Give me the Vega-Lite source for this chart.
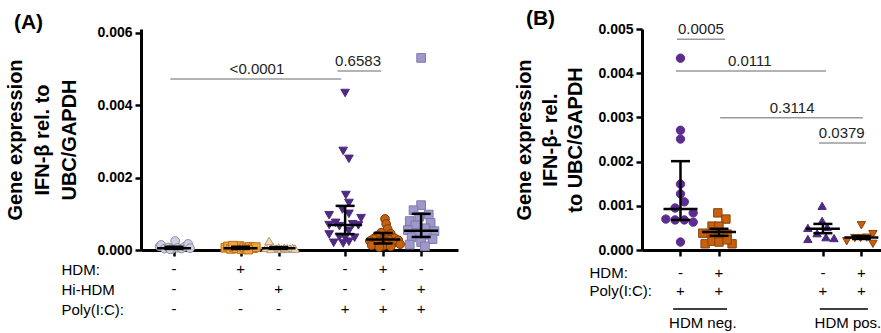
{
  "$schema": "https://vega.github.io/schema/vega-lite/v6.json",
  "padding": {"left": 5, "top": 8, "right": 0, "bottom": 0},
  "autosize": {"type": "pad"},
  "background": "white",
  "config": {
    "font": "Liberation Sans",
    "view": {"stroke": null},
    "axisY": {"labelFontSize": 14, "labelFontWeight": "bold", "labelColor": "black", "labelPadding": 3, "domainWidth": 3, "domainColor": "black", "tickColor": "black", "tickWidth": 2.5, "tickSize": 6, "grid": false, "titleFontSize": 20, "titleFontWeight": "bold", "titleColor": "black", "titleLineHeight": 27, "titlePadding": 10},
    "axisX": {"labels": false, "domainWidth": 3, "domainColor": "black", "tickColor": "black", "tickWidth": 2.5, "tickSize": 6, "grid": false},
    "title": {"fontSize": 21, "fontWeight": "bold", "color": "black", "anchor": "start"}
  },
  "datasets": {
    "ptsA": [
      {"g":"a1","x":0.62,"y":0.00010},{"g":"a1","x":0.66,"y":0.00014},{"g":"a1","x":0.75,"y":0.00004},{"g":"a1","x":0.85,"y":0.00007},{"g":"a1","x":0.95,"y":0.00003},{"g":"a1","x":1.03,"y":0.00025},{"g":"a1","x":1.1,"y":0.00006},{"g":"a1","x":1.2,"y":0.00004},{"g":"a1","x":1.28,"y":0.00009},{"g":"a1","x":1.37,"y":0.00017},{"g":"a1","x":1.42,"y":0.00005},{"g":"a1","x":0.9,"y":0.00002},
      {"g":"a2","x":2.35,"y":0.00006},{"g":"a2","x":2.42,"y":0.00010},{"g":"a2","x":2.5,"y":0.00003},{"g":"a2","x":2.58,"y":0.00008},{"g":"a2","x":2.65,"y":0.00005},{"g":"a2","x":2.72,"y":0.00011},{"g":"a2","x":2.78,"y":0.00002},{"g":"a2","x":2.85,"y":0.00007},{"g":"a2","x":2.92,"y":0.00004},{"g":"a2","x":3.0,"y":0.00009},{"g":"a2","x":3.08,"y":0.00005},{"g":"a2","x":3.15,"y":0.00008},{"g":"a2","x":2.55,"y":0.00012},{"g":"a2","x":2.95,"y":0.00001},
      {"g":"a3","x":3.5,"y":0.00025},{"g":"a3","x":3.42,"y":0.00006},{"g":"a3","x":3.6,"y":0.00008},{"g":"a3","x":3.68,"y":0.00004},{"g":"a3","x":3.75,"y":0.00007},{"g":"a3","x":3.82,"y":0.00003},{"g":"a3","x":3.9,"y":0.00006},{"g":"a3","x":3.98,"y":0.00005},{"g":"a3","x":4.05,"y":0.00004},{"g":"a3","x":4.12,"y":0.00006},{"g":"a3","x":3.55,"y":0.00003},{"g":"a3","x":4.18,"y":0.00004},
      {"g":"a4","x":5.5,"y":0.00434},{"g":"a4","x":5.45,"y":0.00274},{"g":"a4","x":5.6,"y":0.00252},{"g":"a4","x":5.52,"y":0.00152},{"g":"a4","x":5.6,"y":0.0013},{"g":"a4","x":5.43,"y":0.00112},{"g":"a4","x":5.6,"y":0.001},{"g":"a4","x":5.08,"y":0.00096},{"g":"a4","x":5.92,"y":0.00088},{"g":"a4","x":5.25,"y":0.00075},{"g":"a4","x":5.7,"y":0.00071},{"g":"a4","x":5.08,"y":0.00069},{"g":"a4","x":5.35,"y":0.00066},{"g":"a4","x":5.85,"y":0.00068},{"g":"a4","x":5.6,"y":0.00053},{"g":"a4","x":5.08,"y":0.00043},{"g":"a4","x":5.35,"y":0.00036},{"g":"a4","x":5.5,"y":0.00034},{"g":"a4","x":5.75,"y":0.00034},{"g":"a4","x":5.2,"y":0.0002},{"g":"a4","x":5.6,"y":0.00023},{"g":"a4","x":5.45,"y":0.00018},
      {"g":"a5","x":6.55,"y":0.00086},{"g":"a5","x":6.58,"y":0.00072},{"g":"a5","x":6.62,"y":0.00058},{"g":"a5","x":6.45,"y":0.00048},{"g":"a5","x":6.7,"y":0.00045},{"g":"a5","x":6.35,"y":0.0004},{"g":"a5","x":6.55,"y":0.00036},{"g":"a5","x":6.8,"y":0.00033},{"g":"a5","x":6.25,"y":0.00031},{"g":"a5","x":6.5,"y":0.0003},{"g":"a5","x":6.65,"y":0.00028},{"g":"a5","x":6.9,"y":0.00027},{"g":"a5","x":6.15,"y":0.00025},{"g":"a5","x":6.4,"y":0.00024},{"g":"a5","x":6.6,"y":0.00022},{"g":"a5","x":6.75,"y":0.00019},{"g":"a5","x":6.3,"y":0.00017},{"g":"a5","x":6.95,"y":0.00016},{"g":"a5","x":6.2,"y":0.00013},{"g":"a5","x":6.5,"y":0.00012},{"g":"a5","x":6.7,"y":0.0001},{"g":"a5","x":6.4,"y":0.00008},
      {"g":"a6","x":7.5,"y":0.00531},{"g":"a6","x":7.5,"y":0.00124},{"g":"a6","x":7.3,"y":0.0011},{"g":"a6","x":7.7,"y":0.00098},{"g":"a6","x":7.45,"y":0.00092},{"g":"a6","x":7.2,"y":0.0008},{"g":"a6","x":7.75,"y":0.00075},{"g":"a6","x":7.35,"y":0.00068},{"g":"a6","x":7.6,"y":0.0006},{"g":"a6","x":7.15,"y":0.00055},{"g":"a6","x":7.85,"y":0.00052},{"g":"a6","x":7.4,"y":0.00047},{"g":"a6","x":7.65,"y":0.00042},{"g":"a6","x":7.25,"y":0.00035},{"g":"a6","x":7.8,"y":0.0003},{"g":"a6","x":7.5,"y":0.00022},{"g":"a6","x":7.2,"y":0.00015},{"g":"a6","x":7.6,"y":0.0001}
    ],
    "barsA": [
      {"x":1,"med":0.00005,"lo":0.00003,"hi":0.00009},
      {"x":2.75,"med":0.00005,"lo":0.00003,"hi":0.00009},
      {"x":3.75,"med":0.00005,"lo":0.00003,"hi":0.00008},
      {"x":5.5,"med":0.00069,"lo":0.00044,"hi":0.00122},
      {"x":6.5,"med":0.00029,"lo":0.00018,"hi":0.00047},
      {"x":7.5,"med":0.00053,"lo":0.00036,"hi":0.001}
    ],
    "sigA": [
      {"x":0.9,"x2":5.4,"y":0.00473,"lx":3.18,"label":"<0.0001"},
      {"x":5.3,"x2":6.45,"y":0.00495,"lx":5.84,"label":"0.6583"}
    ],
    "tabA": [
      {"x":1,"row":"HDM:","s":"-"},{"x":1,"row":"Hi-HDM","s":"-"},{"x":1,"row":"Poly(I:C):","s":"-"},
      {"x":2.75,"row":"HDM:","s":"+"},{"x":2.75,"row":"Hi-HDM","s":"-"},{"x":2.75,"row":"Poly(I:C):","s":"-"},
      {"x":3.75,"row":"HDM:","s":"-"},{"x":3.75,"row":"Hi-HDM","s":"+"},{"x":3.75,"row":"Poly(I:C):","s":"-"},
      {"x":5.5,"row":"HDM:","s":"-"},{"x":5.5,"row":"Hi-HDM","s":"-"},{"x":5.5,"row":"Poly(I:C):","s":"+"},
      {"x":6.5,"row":"HDM:","s":"+"},{"x":6.5,"row":"Hi-HDM","s":"-"},{"x":6.5,"row":"Poly(I:C):","s":"+"},
      {"x":7.5,"row":"HDM:","s":"-"},{"x":7.5,"row":"Hi-HDM","s":"+"},{"x":7.5,"row":"Poly(I:C):","s":"+"}
    ],
    "ptsB": [
      {"g":"b1","x":1,"y":0.00434},{"g":"b1","x":1,"y":0.00271},{"g":"b1","x":1,"y":0.00251},{"g":"b1","x":1,"y":0.00149},{"g":"b1","x":1,"y":0.00127},{"g":"b1","x":1.1,"y":0.00109},{"g":"b1","x":0.86,"y":0.00095},{"g":"b1","x":1.33,"y":0.00084},{"g":"b1","x":0.62,"y":0.0007},{"g":"b1","x":0.86,"y":0.00068},{"g":"b1","x":1.1,"y":0.00068},{"g":"b1","x":1.33,"y":0.00063},{"g":"b1","x":1,"y":0.00018},
      {"g":"b2","x":1.97,"y":0.00084},{"g":"b2","x":2.18,"y":0.0007},{"g":"b2","x":1.82,"y":0.00054},{"g":"b2","x":2.0,"y":0.00054},{"g":"b2","x":1.58,"y":0.00038},{"g":"b2","x":1.82,"y":0.00036},{"g":"b2","x":2.21,"y":0.00036},{"g":"b2","x":2.0,"y":0.00027},{"g":"b2","x":1.64,"y":0.00014},{"g":"b2","x":1.82,"y":0.0002},{"g":"b2","x":2.0,"y":0.00018},{"g":"b2","x":2.34,"y":0.00014},{"g":"b2","x":2.21,"y":0.00023},
      {"g":"b3","x":4.68,"y":0.001},{"g":"b3","x":4.68,"y":0.00066},{"g":"b3","x":4.31,"y":0.0005},{"g":"b3","x":4.81,"y":0.00052},{"g":"b3","x":4.55,"y":0.00038},{"g":"b3","x":4.31,"y":0.00025},{"g":"b3","x":4.78,"y":0.00029},{"g":"b3","x":4.99,"y":0.00027},
      {"g":"b4","x":5.7,"y":0.00056},{"g":"b4","x":5.32,"y":0.0002},{"g":"b4","x":6.0,"y":0.00036},{"g":"b4","x":6.0,"y":0.00014},{"g":"b4","x":5.53,"y":0.00027},{"g":"b4","x":5.84,"y":0.00028},{"g":"b4","x":5.68,"y":0.00027}
    ],
    "barsB": [
      {"x":1,"med":0.00093,"lo":0.00068,"hi":0.00201},
      {"x":2,"med":0.00041,"lo":0.00032,"hi":0.00048},
      {"x":4.7,"med":0.00048,"lo":0.00038,"hi":0.00059},
      {"x":5.7,"med":0.00028,"lo":0.00025,"hi":0.00031}
    ],
    "sigB": [
      {"x":0.91,"x2":2.16,"y":0.00477,"lx":1.53,"label":"0.0005"},
      {"x":0.88,"x2":4.78,"y":0.00405,"lx":2.8,"label":"0.0111"},
      {"x":2.03,"x2":5.74,"y":0.00299,"lx":3.9,"label":"0.3114"},
      {"x":4.6,"x2":5.82,"y":0.00242,"lx":5.19,"label":"0.0379"}
    ],
    "tabB": [
      {"x":1,"row":"HDM:","s":"-"},{"x":1,"row":"Poly(I:C):","s":"+"},
      {"x":2,"row":"HDM:","s":"+"},{"x":2,"row":"Poly(I:C):","s":"+"},
      {"x":4.7,"row":"HDM:","s":"-"},{"x":4.7,"row":"Poly(I:C):","s":"+"},
      {"x":5.7,"row":"HDM:","s":"+"},{"x":5.7,"row":"Poly(I:C):","s":"+"}
    ],
    "grpB": [
      {"x":0.81,"x2":2.21,"lx":1.58,"label":"HDM neg.","row":"line","lrow":"group"},
      {"x":4.62,"x2":5.87,"lx":5.35,"label":"HDM pos.","row":"line","lrow":"group"}
    ]
  },
  "columns": 2,
  "align": "each",
  "spacing": {"row": 4, "column": 56},
  "resolve": {"scale": {"x": "independent", "y": "independent", "shape": "independent", "fill": "independent", "stroke": "independent"}},
  "concat": [
    {
      "width": 317, "height": 221,
      "title": {"text": "(A)", "dx": 8, "offset": -7},
      "layer": [
        {"data": {"name": "sigA"}, "mark": {"type": "rule", "color": "#9a9a9a", "strokeWidth": 1.5},
         "encoding": {
           "x": {"field": "x", "type": "quantitative", "scale": {"domain": [0.13, 8.47], "nice": false, "zero": false}, "axis": {"values": [1, 2.75, 3.75, 5.5, 6.5, 7.5]}, "title": null},
           "x2": {"field": "x2"},
           "y": {"field": "y", "type": "quantitative", "scale": {"domain": [0, 0.00611], "nice": false}, "axis": {"values": [0, 0.002, 0.004, 0.006], "format": ".3f", "titleLineHeight": 27, "titlePadding": 17}, "title": ["Gene expression", "IFN-β rel. to", "UBC/GAPDH"]}}},
        {"data": {"name": "sigA"}, "mark": {"type": "text", "fontSize": 15, "dy": -5, "baseline": "alphabetic", "color": "#222222"},
         "encoding": {
           "x": {"field": "lx", "type": "quantitative", "title": null},
           "y": {"field": "y", "type": "quantitative", "title": ["Gene expression", "IFN-β rel. to", "UBC/GAPDH"]},
           "text": {"field": "label"}}},
        {"data": {"name": "ptsA"}, "mark": {"type": "point", "filled": true, "size": 75, "strokeWidth": 1, "opacity": 1},
         "encoding": {
           "x": {"field": "x", "type": "quantitative", "title": null},
           "y": {"field": "y", "type": "quantitative", "title": ["Gene expression", "IFN-β rel. to", "UBC/GAPDH"]},
           "shape": {"field": "g", "type": "nominal", "legend": null, "scale": {"domain": ["a1","a2","a3","a4","a5","a6"], "range": ["circle","square","triangle-up","triangle-down","circle","square"]}},
           "fill": {"field": "g", "type": "nominal", "legend": null, "scale": {"domain": ["a1","a2","a3","a4","a5","a6"], "range": ["#cfd0e8","#f2a33c","#f6dcb0","#4e2a82","#c4600e","#9e98cc"]}},
           "stroke": {"field": "g", "type": "nominal", "legend": null, "scale": {"domain": ["a1","a2","a3","a4","a5","a6"], "range": ["#8c8c9c","#b8721a","#b0987a","#4e2a82","#7a3a06","#7e7aa8"]}}}},
        {"data": {"name": "barsA"}, "mark": {"type": "rule", "color": "black", "strokeWidth": 2.5},
         "encoding": {
           "x": {"field": "x", "type": "quantitative", "title": null},
           "y": {"field": "lo", "type": "quantitative", "title": ["Gene expression", "IFN-β rel. to", "UBC/GAPDH"]},
           "y2": {"field": "hi"}}},
        {"data": {"name": "barsA"}, "mark": {"type": "tick", "orient": "horizontal", "color": "black", "size": 34, "thickness": 2.5, "opacity": 1},
         "encoding": {
           "x": {"field": "x", "type": "quantitative", "title": null},
           "y": {"field": "med", "type": "quantitative", "title": ["Gene expression", "IFN-β rel. to", "UBC/GAPDH"]}}},
        {"data": {"name": "barsA"}, "mark": {"type": "tick", "orient": "horizontal", "color": "black", "size": 19, "thickness": 2.5, "opacity": 1},
         "encoding": {
           "x": {"field": "x", "type": "quantitative", "title": null},
           "y": {"field": "lo", "type": "quantitative", "title": ["Gene expression", "IFN-β rel. to", "UBC/GAPDH"]}}},
        {"data": {"name": "barsA"}, "mark": {"type": "tick", "orient": "horizontal", "color": "black", "size": 19, "thickness": 2.5, "opacity": 1},
         "encoding": {
           "x": {"field": "x", "type": "quantitative", "title": null},
           "y": {"field": "hi", "type": "quantitative", "title": ["Gene expression", "IFN-β rel. to", "UBC/GAPDH"]}}}
      ]
    },
    {
      "width": 239, "height": 221,
      "title": {"text": "(B)", "dx": 11, "offset": -7},
      "layer": [
        {"data": {"name": "sigB"}, "mark": {"type": "rule", "color": "#9a9a9a", "strokeWidth": 1.5},
         "encoding": {
           "x": {"field": "x", "type": "quantitative", "scale": {"domain": [0, 6.21], "nice": false, "zero": false}, "axis": {"values": [1, 2, 4.7, 5.7]}, "title": null},
           "x2": {"field": "x2"},
           "y": {"field": "y", "type": "quantitative", "scale": {"domain": [0, 0.005], "nice": false}, "axis": {"values": [0, 0.001, 0.002, 0.003, 0.004, 0.005], "format": ".3f", "titleLineHeight": 25.5, "titlePadding": 12}, "title": ["Gene expression", "IFN-β- rel.", "to UBC/GAPDH"]}}},
        {"data": {"name": "sigB"}, "mark": {"type": "text", "fontSize": 15, "dy": -5, "baseline": "alphabetic", "color": "#222222"},
         "encoding": {
           "x": {"field": "lx", "type": "quantitative", "title": null},
           "y": {"field": "y", "type": "quantitative", "title": ["Gene expression", "IFN-β- rel.", "to UBC/GAPDH"]},
           "text": {"field": "label"}}},
        {"data": {"name": "ptsB"}, "mark": {"type": "point", "filled": true, "size": 70, "strokeWidth": 1, "opacity": 1},
         "encoding": {
           "x": {"field": "x", "type": "quantitative", "title": null},
           "y": {"field": "y", "type": "quantitative", "title": ["Gene expression", "IFN-β- rel.", "to UBC/GAPDH"]},
           "shape": {"field": "g", "type": "nominal", "legend": null, "scale": {"domain": ["b1","b2","b3","b4"], "range": ["circle","square","triangle-up","triangle-down"]}},
           "fill": {"field": "g", "type": "nominal", "legend": null, "scale": {"domain": ["b1","b2","b3","b4"], "range": ["#5c2d91","#c8600f","#4e2a82","#c8600f"]}},
           "stroke": {"field": "g", "type": "nominal", "legend": null, "scale": {"domain": ["b1","b2","b3","b4"], "range": ["#5c2d91","#8a4008","#4e2a82","#8a4008"]}}}},
        {"data": {"name": "barsB"}, "mark": {"type": "rule", "color": "black", "strokeWidth": 2.5},
         "encoding": {
           "x": {"field": "x", "type": "quantitative", "title": null},
           "y": {"field": "lo", "type": "quantitative", "title": ["Gene expression", "IFN-β- rel.", "to UBC/GAPDH"]},
           "y2": {"field": "hi"}}},
        {"data": {"name": "barsB"}, "mark": {"type": "tick", "orient": "horizontal", "color": "black", "size": 34, "thickness": 2.5, "opacity": 1},
         "encoding": {
           "x": {"field": "x", "type": "quantitative", "title": null},
           "y": {"field": "med", "type": "quantitative", "title": ["Gene expression", "IFN-β- rel.", "to UBC/GAPDH"]}}},
        {"data": {"name": "barsB"}, "mark": {"type": "tick", "orient": "horizontal", "color": "black", "size": 19, "thickness": 2.5, "opacity": 1},
         "encoding": {
           "x": {"field": "x", "type": "quantitative", "title": null},
           "y": {"field": "lo", "type": "quantitative", "title": ["Gene expression", "IFN-β- rel.", "to UBC/GAPDH"]}}},
        {"data": {"name": "barsB"}, "mark": {"type": "tick", "orient": "horizontal", "color": "black", "size": 19, "thickness": 2.5, "opacity": 1},
         "encoding": {
           "x": {"field": "x", "type": "quantitative", "title": null},
           "y": {"field": "hi", "type": "quantitative", "title": ["Gene expression", "IFN-β- rel.", "to UBC/GAPDH"]}}}
      ]
    },
    {
      "width": 317, "height": 40,
      "data": {"name": "tabA"},
      "mark": {"type": "text", "fontSize": 15, "baseline": "middle", "color": "black"},
      "encoding": {
        "x": {"field": "x", "type": "quantitative", "scale": {"domain": [0.13, 8.47], "nice": false, "zero": false}, "axis": null},
        "y": {"field": "row", "type": "nominal", "scale": {"type": "point", "domain": ["HDM:", "Hi-HDM", "Poly(I:C):"], "padding": 0},
              "axis": {"title": null, "domain": false, "ticks": false, "tickSize": 0, "labelAlign": "left", "labelPadding": 80, "labelFontSize": 15, "labelFontWeight": "normal", "labelColor": "black"}},
        "text": {"field": "s"}
      }
    },
    {
      "width": 239, "height": 62,
      "layer": [
        {"data": {"name": "tabB"},
         "mark": {"type": "text", "fontSize": 15, "baseline": "middle", "color": "black"},
         "encoding": {
           "x": {"field": "x", "type": "quantitative", "scale": {"domain": [0, 6.21], "nice": false, "zero": false}, "axis": null},
           "y": {"field": "row", "type": "nominal", "scale": {"type": "point", "domain": ["HDM:", "Poly(I:C):", "line", "group"], "padding": 0.222},
                 "axis": {"title": null, "domain": false, "ticks": false, "tickSize": 0, "labelAlign": "left", "labelPadding": 53, "labelFontSize": 15, "labelFontWeight": "normal", "labelColor": "black", "labelExpr": "datum.value == 'line' || datum.value == 'group' ? '' : datum.label"}},
           "text": {"field": "s"}}},
        {"data": {"name": "grpB"},
         "mark": {"type": "rule", "color": "black", "strokeWidth": 1.5},
         "encoding": {
           "x": {"field": "x", "type": "quantitative"},
           "x2": {"field": "x2"},
           "y": {"field": "row", "type": "nominal"}}},
        {"data": {"name": "grpB"},
         "mark": {"type": "text", "fontSize": 15, "baseline": "middle", "color": "black", "dy": -4},
         "encoding": {
           "x": {"field": "lx", "type": "quantitative"},
           "y": {"field": "lrow", "type": "nominal"},
           "text": {"field": "label"}}}
      ]
    }
  ]
}
